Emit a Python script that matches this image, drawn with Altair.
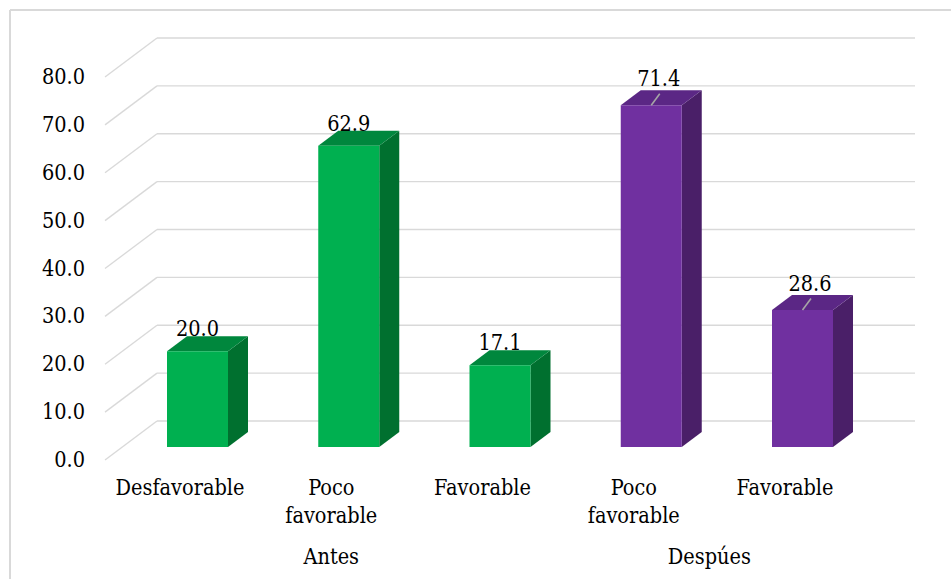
import altair as alt
import pandas as pd

# ---------------- data ----------------
categories = ["Desfavorable", "Poco favorable", "Favorable", "Poco favorable", "Favorable"]
groups = ["Antes", "Antes", "Antes", "Despúes", "Despúes"]
values = [20.0, 62.9, 17.1, 71.4, 28.6]
ticks = [0, 10, 20, 30, 40, 50, 60, 70, 80]

group_names = ["Antes", "Despúes"]
front_colors = ["#00B050", "#7030A0"]
top_colors = ["#00873D", "#5B2785"]
side_colors = ["#00702F", "#4A1F68"]

# ---------------- layout ----------------
W, H = 951, 579
PX_X = 151.25      # px per category step
X_FIRST = 197.5    # px of first bar centre
PX_Y = 4.7875      # px per value unit
Y_ZERO = 460       # px of value 0 on the front plane
FONT = "DejaVu Serif Condensed"
FS = 21.5

def hx(px):
    return px / PX_X

def hy(px):
    return px / PX_Y

X_DOMAIN = [-X_FIRST / PX_X, (W - X_FIRST) / PX_X]
Y_DOMAIN = [(Y_ZERO - H) / PX_Y, Y_ZERO / PX_Y]
xs = alt.Scale(domain=X_DOMAIN, nice=False, zero=False)
ys = alt.Scale(domain=Y_DOMAIN, nice=False, zero=False)

HW = hx(30.5)
DX = hx(20)
DY = hy(15)
B0 = hy(13)
BACK = hy(39)
LBL_SHIFT = hx(17.5)

df = pd.DataFrame({
    "idx": list(range(len(values))),
    "cat": categories,
    "grp": groups,
    "val": values,
})
tick_df = pd.DataFrame({"t": ticks})

GRID = "#D9D9D9"

# border (left + top)
border_left = alt.Chart(tick_df).mark_rule(color=GRID, strokeWidth=1.5).encode(
    x=alt.value(10), y=alt.value(10), y2=alt.value(H))
border_top = alt.Chart(tick_df).mark_rule(color=GRID, strokeWidth=1.5).encode(
    x=alt.value(10), x2=alt.value(W), y=alt.value(10))

grid_base = alt.Chart(tick_df).transform_calculate(tb=f"datum.t + {BACK}")
grid_diag = grid_base.mark_rule(color=GRID, strokeWidth=1.3).encode(
    x=alt.value(105), x2=alt.value(157),
    y=alt.Y("t:Q", scale=ys, axis=None), y2=alt.Y2("tb:Q"))
grid_flat = grid_base.mark_rule(color=GRID, strokeWidth=1.3).encode(
    x=alt.value(157), x2=alt.value(915),
    y=alt.Y("tb:Q", scale=ys, axis=None))

tick_labels = alt.Chart(tick_df).mark_text(
    align="right", baseline="middle", font=FONT, fontSize=FS, color="#000000", dy=1
).encode(
    x=alt.value(85),
    y=alt.Y("t:Q", scale=ys, axis=None),
    text=alt.Text("t:Q", format=".1f"))

base = alt.Chart(df).transform_calculate(
    xl=f"datum.idx - {HW}",
    xr=f"datum.idx + {HW}",
    yb=f"{B0}",
    yt=f"{B0} + datum.val",
)

folded = base.transform_calculate(e0="0", e1="1").transform_fold(
    ["e0", "e1"], as_=["edge", "k"]
).transform_calculate(kk="toNumber(datum.k)")

side = folded.transform_calculate(
    sx=f"datum.xr + datum.kk * {DX}",
    sy=f"datum.yb + datum.kk * {DY}",
    sy2=f"datum.yt + datum.kk * {DY}",
).mark_area(orient="vertical", interpolate="linear").encode(
    x=alt.X("sx:Q", scale=xs, axis=None),
    y=alt.Y("sy:Q", scale=ys, axis=None, stack=None),
    y2="sy2:Q",
    detail="idx:N",
    color=alt.Color("grp:N", scale=alt.Scale(domain=group_names, range=side_colors), legend=None),
)

top = folded.transform_calculate(
    tx=f"datum.xl + datum.kk * {DX}",
    tx2=f"datum.xr + datum.kk * {DX}",
    ty=f"datum.yt + datum.kk * {DY}",
).mark_area(orient="horizontal", interpolate="linear").encode(
    y=alt.Y("ty:Q", scale=ys, axis=None),
    x=alt.X("tx:Q", scale=xs, axis=None, stack=None),
    x2="tx2:Q",
    detail="idx:N",
    color=alt.Color("grp:N", scale=alt.Scale(domain=group_names, range=top_colors), legend=None),
)

front = base.mark_rect().encode(
    x=alt.X("xl:Q", scale=xs, axis=None),
    x2="xr:Q",
    y=alt.Y("yt:Q", scale=ys, axis=None),
    y2="yb:Q",
    color=alt.Color("grp:N", scale=alt.Scale(domain=group_names, range=front_colors), legend=None),
)

leaders = base.transform_filter(alt.datum.grp == "Despúes").transform_calculate(
    lx2=f"datum.idx + {hx(8.5)}",
    ly2=f"datum.yt + {hy(11.5)}",
).mark_rule(color="#A6A6A6", strokeWidth=1.6).encode(
    x=alt.X("idx:Q", scale=xs, axis=None),
    x2="lx2:Q",
    y=alt.Y("yt:Q", scale=ys, axis=None),
    y2="ly2:Q",
)

value_labels = base.transform_calculate(
    lx=f"datum.idx + (datum.grp == 'Despúes' ? {hx(7.5)} : 0)",
    ly=f"datum.yt + {DY} + (datum.grp == 'Despúes' ? {hy(4)} : 0)",
).mark_text(
    align="center", baseline="alphabetic", font=FONT, fontSize=FS, color="#000000"
).encode(
    x=alt.X("lx:Q", scale=xs, axis=None),
    y=alt.Y("ly:Q", scale=ys, axis=None),
    text=alt.Text("val:Q", format=".1f"),
)

cat_labels = base.transform_calculate(
    cx=f"datum.idx - {LBL_SHIFT}"
).mark_text(
    align="center", baseline="alphabetic", font=FONT, fontSize=FS, color="#000000",
    lineBreak=" ", lineHeight=28
).encode(
    x=alt.X("cx:Q", scale=xs, axis=None),
    y=alt.value(495),
    text="cat:N",
)

grp_labels = alt.Chart(df).transform_aggregate(
    m="mean(idx)", groupby=["grp"]
).transform_calculate(
    gx=f"datum.m - {LBL_SHIFT}"
).mark_text(
    align="center", baseline="alphabetic", font=FONT, fontSize=FS, color="#000000"
).encode(
    x=alt.X("gx:Q", scale=xs, axis=None),
    y=alt.value(564),
    text="grp:N",
)

chart = alt.layer(
    border_left, border_top, grid_diag, grid_flat, tick_labels,
    side, top, front, leaders, value_labels, cat_labels, grp_labels
).resolve_scale(color="independent").properties(
    width=W, height=H, autosize=alt.AutoSizeParams(type="none"), padding=0,
    background="#FFFFFF"
).configure_view(stroke=None)

chart.save("out.html", embed_options={"renderer": "svg", "actions": False})
